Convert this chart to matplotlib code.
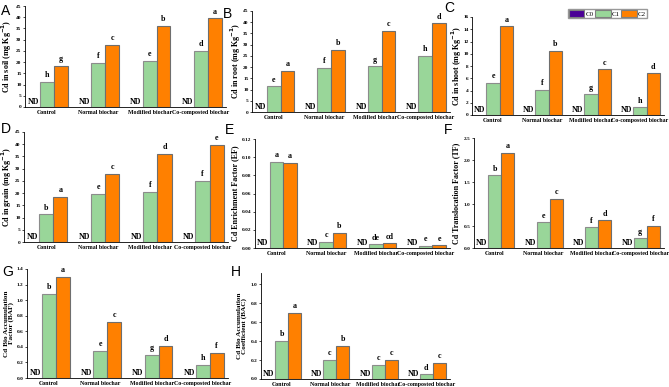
import numpy as np
import matplotlib.pyplot as plt

plt.rcParams['font.family'] = ['Liberation Serif', 'DejaVu Serif']

categories = ["Control", "Normal biochar", "Modified biochar", "Co-composted biochar"]
series = ["C0", "C1", "C2"]
colors = ["#4b0096", "#99d699", "#ff8000"]

soil_c1 = [11.3, 19.8, 20.5, 25.0]
soil_c2 = [18.4, 27.8, 36.2, 39.6]
soil_l1 = ["h", "f", "e", "d"]
soil_l2 = ["g", "c", "b", "a"]

root_c1 = [11.4, 19.7, 20.4, 25.0]
root_c2 = [18.3, 27.8, 36.3, 39.6]
root_l1 = ["e", "f", "g", "h"]
root_l2 = ["a", "b", "c", "d"]

shoot_c1 = [5.3, 4.1, 3.4, 1.3]
shoot_c2 = [14.5, 10.5, 7.5, 6.8]
shoot_l1 = ["e", "f", "g", "h"]
shoot_l2 = ["a", "b", "c", "d"]

grain_c1 = [11.3, 19.7, 20.4, 25.0]
grain_c2 = [18.4, 27.8, 36.2, 39.6]
grain_l1 = ["b", "e", "f", "f"]
grain_l2 = ["a", "c", "d", "e"]

ef_c1 = [0.095, 0.007, 0.004, 0.002]
ef_c2 = [0.094, 0.017, 0.005, 0.003]
ef_l1 = ["a", "c", "de", "e"]
ef_l2 = ["a", "b", "cd", "e"]

tf_c1 = [1.65, 0.58, 0.47, 0.22]
tf_c2 = [2.17, 1.12, 0.63, 0.50]
tf_l1 = ["b", "e", "f", "g"]
tf_l2 = ["a", "c", "d", "f"]

baf_c1 = [1.08, 0.35, 0.30, 0.17]
baf_c2 = [1.30, 0.72, 0.41, 0.32]
baf_l1 = ["b", "e", "g", "h"]
baf_l2 = ["a", "c", "d", "f"]

bac_c1 = [0.40, 0.20, 0.15, 0.05]
bac_c2 = [0.70, 0.35, 0.20, 0.17]
bac_l1 = ["b", "c", "c", "d"]
bac_l2 = ["a", "b", "c", "c"]

W, H = 669, 387
fig = plt.figure(figsize=(W / 100, H / 100), dpi=100)


def box(x0, x1, y0, y1):
    return [x0 / W, (H - y1) / H, (x1 - x0) / W, (y1 - y0) / H]


# (letter, label, c1, c2, l1, l2, ymax, step, fmt, pixel box, label x)
panels = [
    ("A", "Cd in soil (mg Kg$^{\\mathbf{-1}}$)", soil_c1, soil_c2, soil_l1, soil_l2, 45, 5, "%d", (25, 226, 6, 107), 7),
    ("B", "Cd in root (mg Kg$^{\\mathbf{-1}}$)", root_c1, root_c2, root_l1, root_l2, 45, 5, "%d", (252, 450, 11, 112), 236),
    ("C", "Cd in shoot (mg Kg$^{\\mathbf{-1}}$)", shoot_c1, shoot_c2, shoot_l1, shoot_l2, 16, 2, "%d", (472, 664, 17, 115), 457),
    ("D", "Cd in grain (mg Kg$^{\\mathbf{-1}}$)", grain_c1, grain_c2, grain_l1, grain_l2, 45, 5, "%d", (24, 228, 132, 242), 7),
    ("E", "Cd Enrichment Factor (EF)", ef_c1, ef_c2, ef_l1, ef_l2, 0.12, 0.02, "%.2f", (255, 450, 139, 248), 235),
    ("F", "Cd Translocation Factor (TF)", tf_c1, tf_c2, tf_l1, tf_l2, 2.5, 0.5, "%.1f", (474, 664, 138, 248), 456),
    ("G", "Cd Bio Accumulation\nFactor (BAF)", baf_c1, baf_c2, baf_l1, baf_l2, 1.4, 0.2, "%.1f", (27, 228, 269, 378), 9),
    ("H", "Cd Bio Accumulation\nCoefficient (BAC)", bac_c1, bac_c2, bac_l1, bac_l2, 1.116, 0.2, "%.1f", (261, 450, 273, 379), 242),
]

letter_pos = {"A": (1, 11), "B": (223, 14), "C": (444, 8), "D": (1, 129),
              "E": (225, 130), "F": (444, 130), "G": (2, 272), "H": (231, 272)}

x = np.arange(len(categories))
bw = 0.27

for letter, label, c1, c2, l1, l2, ymax, step, fmt, pix, lab_x in panels:
    ax = fig.add_axes(box(*pix))
    ax.bar(x, c1, bw, color=colors[1], edgecolor="#8c8c8c", linewidth=0.8)
    ax.bar(x + bw, c2, bw, color=colors[2], edgecolor="#6e6e6e", linewidth=0.8)
    ax.set_xlim(-0.43, 3.49)
    ax.set_ylim(0, ymax)
    ticks = np.arange(0, ymax + step / 2, step)
    if letter == "H":
        ticks = np.arange(0, 1.01, 0.2)
    ax.set_yticks(ticks)
    ax.set_yticklabels([fmt % t for t in ticks], fontsize=3.8, fontweight="bold")
    ax.set_xticks(x)
    ax.set_xticklabels(categories, fontsize=4.2, fontweight="bold")
    ax.tick_params(axis="x", length=0, pad=2)
    ax.tick_params(axis="y", length=1.5, width=0.5, pad=1)
    for s in ["top", "right"]:
        ax.spines[s].set_visible(False)
    for s in ["left", "bottom"]:
        ax.spines[s].set_linewidth(0.6)
    # y label placed by pixel centre
    x0, x1, y0, y1 = pix
    fs = 5.2 if "\n" in label else 5.8
    fig.text(lab_x / W, 1 - (y0 + y1) / 2 / H, label, rotation=90, ha="center", va="center",
             fontsize=fs, fontweight="bold", linespacing=1.0)
    off = ymax * 0.025
    for i in range(len(categories)):
        ax.text(x[i] - bw, ymax * 0.01, "ND", ha="center", va="bottom", fontsize=5.8, fontweight="bold")
        ax.text(x[i], c1[i] + off, l1[i], ha="center", va="bottom", fontsize=5.8, fontweight="bold")
        ax.text(x[i] + bw, c2[i] + off, l2[i], ha="center", va="bottom", fontsize=5.8, fontweight="bold")
    lx, ly = letter_pos[letter]
    fig.text(lx / W, 1 - ly / H, letter, fontsize=10, family="Liberation Sans", ha="left", va="center")

    if letter == "C":
        handles = [plt.Rectangle((0, 0), 1, 1, facecolor=c, edgecolor="#808080", linewidth=0.8) for c in colors]
        ax.legend(handles, series, loc="upper left", bbox_to_anchor=((568 - x0) / (x1 - x0), 1.08),
                  ncol=3, fontsize=5, frameon=True, fancybox=False, edgecolor="#808080",
                  handlelength=2.2, handleheight=1.1, handletextpad=0.2, columnspacing=0.2,
                  borderpad=0.15, borderaxespad=0)

fig.savefig("out.png", dpi=100)
